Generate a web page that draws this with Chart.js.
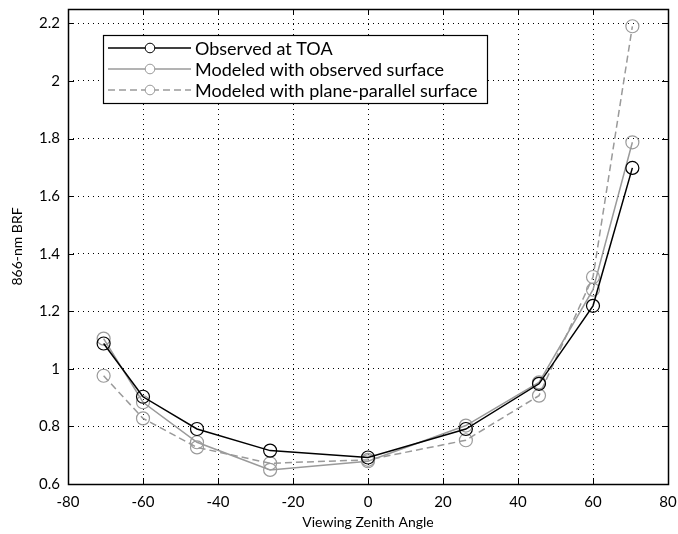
<!DOCTYPE html>
<html>
<head>
<meta charset="utf-8">
<script src="https://cdn.jsdelivr.net/npm/chart.js@4"></script>
<style>
  html, body { margin: 0; padding: 0; background: #fff; }
  #wrap { width: 678px; height: 534px; }
</style>
</head>
<body>
<div id="wrap"><canvas id="c" width="678" height="534"></canvas></div>
<script>
// MISR camera view angles
const angles = [-70.5, -60.0, -45.6, -26.1, 0, 26.1, 45.6, 60.0, 70.5];

// 866-nm BRF
const observedTOA = [1.088, 0.903, 0.791, 0.716, 0.692, 0.791, 0.948, 1.219, 1.698];
const modeledObserved = [1.105, 0.884, 0.745, 0.649, 0.679, 0.803, 0.953, 1.275, 1.787];
const modeledPlaneParallel = [0.976, 0.828, 0.727, 0.672, 0.684, 0.752, 0.907, 1.319, 2.190];

const xTicks = [-80, -60, -40, -20, 0, 20, 40, 60, 80];
const yTicks = [0.6, 0.8, 1.0, 1.2, 1.4, 1.6, 1.8, 2.0, 2.2];

const seriesLabels = ['Observed at TOA', 'Modeled with observed surface', 'Modeled with plane-parallel surface'];

const colors = {
    black: '#000000',
    gray: '#9a9a9a',
    grid: '#000000'
};
const fontFamily = "Lato, 'Liberation Sans', sans-serif";

function toPoints(ys) {
    return angles.map((a, i) => ({ x: a, y: ys[i] }));
}

// drop the label overflow padding, the layout padding decides the plot box
function noOverflow(s) {
    s.paddingTop = 0;
    s.paddingBottom = 0;
    s.paddingLeft = 0;
    s.paddingRight = 0;
}

// box, inward ticks and legend, like the MATLAB axes
const axesBox = {
    id: 'axesBox',
    afterDatasetsDraw(chart) {
        const { ctx, chartArea: a, scales } = chart;
        ctx.save();
        ctx.strokeStyle = '#000';
        ctx.lineWidth = 1;
        ctx.setLineDash([]);
        ctx.beginPath();
        xTicks.forEach(v => {
            const px = Math.round(scales.x.getPixelForValue(v)) + 0.5;
            ctx.moveTo(px, a.bottom); ctx.lineTo(px, a.bottom - 6);
            ctx.moveTo(px, a.top); ctx.lineTo(px, a.top + 6);
        });
        yTicks.forEach(v => {
            const py = Math.round(scales.y.getPixelForValue(v)) + 0.5;
            ctx.moveTo(a.left, py); ctx.lineTo(a.left + 6, py);
            ctx.moveTo(a.right, py); ctx.lineTo(a.right - 6, py);
        });
        ctx.stroke();
        ctx.lineWidth = 1.5;
        ctx.strokeRect(Math.round(a.left) + 0.5, Math.round(a.top) + 0.5,
            Math.round(a.right - a.left), Math.round(a.bottom - a.top));

        // legend
        const lx = a.left + 35, ly = a.top + 26, lw = 384, lh = 68;
        ctx.fillStyle = '#fff';
        ctx.fillRect(lx, ly, lw, lh);
        ctx.lineWidth = 1.2;
        ctx.strokeStyle = '#000';
        ctx.strokeRect(lx + 0.5, ly + 0.5, lw, lh);
        const styles = chart.data.datasets;
        ctx.font = '18px ' + fontFamily;
        ctx.textBaseline = 'middle';
        styles.forEach((ds, i) => {
            const y = ly + 13 + i * 21;
            ctx.strokeStyle = ds.borderColor;
            ctx.lineWidth = ds.borderWidth;
            ctx.setLineDash(ds.borderDash || []);
            ctx.beginPath();
            ctx.moveTo(lx + 5, y); ctx.lineTo(lx + 88, y);
            ctx.stroke();
            ctx.setLineDash([]);
            ctx.lineWidth = 1;
            ctx.beginPath();
            ctx.arc(lx + 47, y, 4.8, 0, Math.PI * 2);
            ctx.fillStyle = '#fff';
            ctx.fill();
            ctx.stroke();
            ctx.fillStyle = '#000';
            ctx.fillText(ds.label, lx + 92, y + 1);
        });
        ctx.restore();
    }
};

new Chart(document.getElementById('c'), {
    type: 'scatter',
    data: {
        datasets: [
            {
                label: seriesLabels[0],
                data: toPoints(observedTOA),
                showLine: true,
                borderColor: colors.black,
                borderWidth: 1.5,
                pointRadius: 6.5,
                pointBorderColor: colors.black,
                pointBackgroundColor: 'rgba(0,0,0,0)',
                pointBorderWidth: 1.2
            },
            {
                label: seriesLabels[1],
                data: toPoints(modeledObserved),
                showLine: true,
                borderColor: colors.gray,
                borderWidth: 1.5,
                pointRadius: 6.5,
                pointBorderColor: colors.gray,
                pointBackgroundColor: 'rgba(0,0,0,0)',
                pointBorderWidth: 1.2
            },
            {
                label: seriesLabels[2],
                data: toPoints(modeledPlaneParallel),
                showLine: true,
                borderColor: colors.gray,
                borderWidth: 1.5,
                borderDash: [7, 4],
                pointRadius: 6.5,
                pointBorderColor: colors.gray,
                pointBackgroundColor: 'rgba(0,0,0,0)',
                pointBorderWidth: 1.2
            }
        ]
    },
    options: {
        responsive: false,
        animation: false,
        layout: { padding: { top: 9, right: 10, left: 0, bottom: 0 } },
        plugins: {
            legend: { display: false },
            tooltip: { enabled: false }
        },
        scales: {
            x: {
                type: 'linear',
                min: -80,
                max: 80,
                afterBuildTicks: s => { s.ticks = xTicks.map(v => ({ value: v })); },
                afterFit: s => { s.height = 50; noOverflow(s); },
                grid: { color: colors.grid, lineWidth: 1, drawTicks: false },
                border: { display: false, dash: [1, 4] },
                ticks: {
                    color: '#000',
                    padding: 9,
                    font: { family: fontFamily, size: 15 },
                    callback: v => String(v)
                },
                title: {
                    display: true,
                    text: 'Viewing Zenith Angle',
                    color: '#000',
                    padding: { top: 1, bottom: 3 },
                    font: { family: fontFamily, size: 14 }
                }
            },
            y: {
                type: 'linear',
                min: 0.6,
                max: 2.25,
                afterBuildTicks: s => { s.ticks = yTicks.map(v => ({ value: v })); },
                afterFit: s => { s.width = 68; noOverflow(s); },
                grid: { color: colors.grid, lineWidth: 1, drawTicks: false },
                border: { display: false, dash: [1, 4] },
                ticks: {
                    color: '#000',
                    padding: 8,
                    font: { family: fontFamily, size: 15 },
                    callback: v => String(+v.toFixed(1))
                },
                title: {
                    display: true,
                    text: '866-nm BRF',
                    color: '#000',
                    padding: { top: 9, bottom: 4 },
                    font: { family: fontFamily, size: 14 }
                }
            }
        }
    },
    plugins: [axesBox]
});
</script>
</body>
</html>
